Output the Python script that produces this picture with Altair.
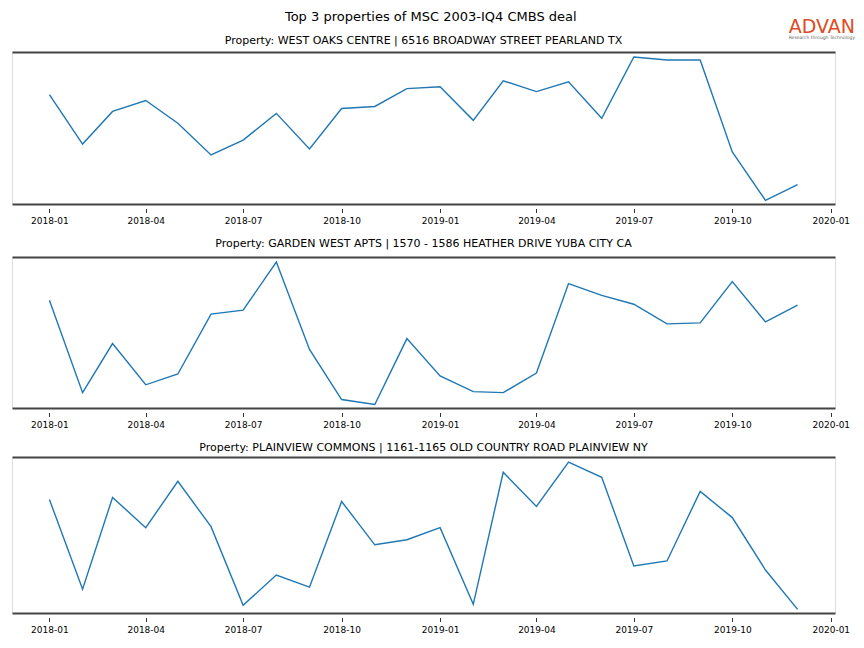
import altair as alt
import pandas as pd

# ---- data (arbitrary units, no y axis shown) ----
months = ["2018-01-01", "2018-02-01", "2018-03-01", "2018-04-01", "2018-05-01", "2018-06-01",
          "2018-07-01", "2018-08-01", "2018-09-01", "2018-10-01", "2018-11-01", "2018-12-01",
          "2019-01-01", "2019-02-01", "2019-03-01", "2019-04-01", "2019-05-01", "2019-06-01",
          "2019-07-01", "2019-08-01", "2019-09-01", "2019-10-01", "2019-11-01", "2019-12-01"]

west_oaks = [110, 60, 93, 104, 81, 49, 64, 91, 55, 96, 98, 116,
             118, 84, 124, 113, 123, 86, 148, 145, 145, 52, 3, 19]
garden_west = [108, 14, 64, 22, 33, 94, 98, 147, 58, 7, 2, 69,
               31, 15, 14, 34, 125, 113, 104, 84, 85, 127, 86, 103]
plainview = [113, 24, 115, 85, 131, 86, 8, 38, 26, 111, 68, 73,
             85, 9, 140, 106, 150, 135, 47, 52, 121, 95, 43, 4]

titles = ["Property: WEST OAKS CENTRE | 6516 BROADWAY STREET PEARLAND TX",
          "Property: GARDEN WEST APTS | 1570 - 1586 HEATHER DRIVE YUBA CITY CA",
          "Property: PLAINVIEW COMMONS | 1161-1165 OLD COUNTRY ROAD PLAINVIEW NY"]
series = [west_oaks, garden_west, plainview]
heights = [152, 151, 156]
title_offsets = [6, 8.5, 4.5]

tick_dates = ["2018-01-01", "2018-04-01", "2018-07-01", "2018-10-01", "2019-01-01",
              "2019-04-01", "2019-07-01", "2019-10-01", "2020-01-01"]

main_title = "Top 3 properties of MSC 2003-IQ4 CMBS deal"
logo_text = "ADVAN"
logo_sub = "Research through Technology"

# ---- helpers ----
def ms(d):
    return int(pd.Timestamp(d, tz="UTC").value // 10**6)

d0, d1 = ms(months[0]), ms(months[-1])
span = d1 - d0
x_domain = [d0 - 0.05 * span, d1 + 0.05 * span]
tick_vals = [ms(t) for t in tick_dates]

SPINE = "#444444"
LINE = "#1f77b4"
W = 823


def panel(values, title, h, toff):
    df = pd.DataFrame({"date": months, "value": values})
    lo, hi = min(values), max(values)
    r = hi - lo
    y_scale = alt.Scale(domain=[lo - 0.025 * r, hi + 0.035 * r], nice=False, zero=False)
    x_scale = alt.Scale(type="utc", domain=x_domain, nice=False)

    base = alt.Chart(df)
    line = base.mark_line(color=LINE, strokeWidth=1.4).encode(
        x=alt.X("date:T", scale=x_scale, title=None,
                axis=alt.Axis(orient="bottom", values=tick_vals,
                              labelExpr="utcFormat(datum.value, '%Y-%m')", grid=False,
                              domain=True, domainColor=SPINE, domainWidth=2,
                              ticks=True, tickColor="black", tickWidth=0.8,
                              tickSize=8.5, tickDash=[0, 4.5, 4, 100],
                              labelFontSize=9, labelColor="black", labelPadding=4,
                              labelFont="DejaVu Sans", labelFlush=False)),
        y=alt.Y("value:Q", scale=y_scale, axis=None),
    )
    top = base.mark_line(opacity=0).encode(
        x=alt.X("date:T", scale=x_scale, title=None,
                axis=alt.Axis(orient="top", grid=False, labels=False, ticks=False,
                              domain=True, domainColor=SPINE, domainWidth=2)),
        y=alt.Y("value:Q", scale=y_scale, axis=None),
    )
    return alt.layer(line, top).resolve_scale(x="independent").properties(
        width=W, height=h,
        title=alt.TitleParams(title, fontSize=11, fontWeight="normal", font="DejaVu Sans",
                              color="black", offset=toff, anchor="middle"),
    )


charts = [panel(v, t, h, o) for v, t, h, o in zip(series, titles, heights, title_offsets)]

inner = alt.vconcat(*charts, spacing=11).properties(
    title=alt.TitleParams(main_title, fontSize=13, fontWeight="normal", font="DejaVu Sans",
                          color="black", anchor="middle", offset=11),
)

chart = alt.vconcat(inner).properties(
    title=alt.TitleParams(logo_text, subtitle=logo_sub, fontSize=19, fontWeight="normal",
                          font="DejaVu Sans", color="#DD4B22", anchor="end",
                          subtitleFontSize=4.5, subtitleColor="#666666",
                          subtitleFont="DejaVu Sans", subtitlePadding=-2,
                          offset=0, dx=5, dy=29),
    padding={"left": 3, "top": 2, "right": 0, "bottom": -1},
).configure_view(stroke=None).configure(font="DejaVu Sans")

chart.save("out.html", embed_options={"renderer": "svg", "actions": False})
